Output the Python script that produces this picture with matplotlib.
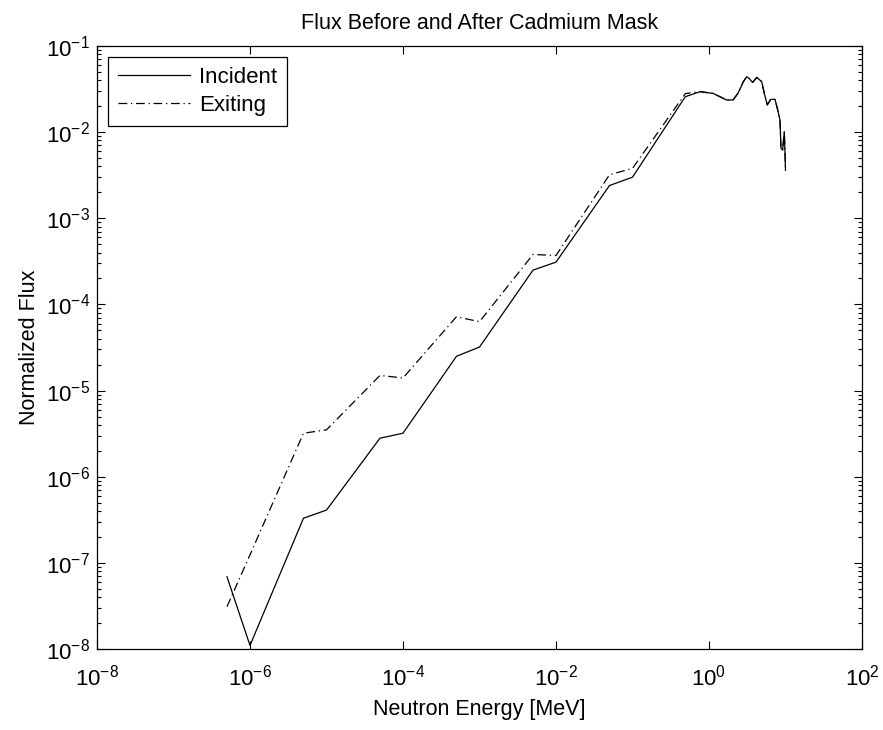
import numpy as np
import matplotlib
matplotlib.use('Agg')
import matplotlib.pyplot as plt
from matplotlib.ticker import FixedLocator, LogLocator, NullLocator, LogFormatterSciNotation

plt.rcParams['font.family'] = ['Liberation Sans', 'DejaVu Sans']
plt.rcParams['mathtext.fontset'] = 'custom'
plt.rcParams['mathtext.rm'] = 'Liberation Sans'
plt.rcParams['mathtext.default'] = 'regular'

# energy grid [MeV] and normalized flux
e_low = [5e-7, 1e-6, 5e-6, 1e-5, 5e-5, 1e-4, 5e-4, 1e-3, 5e-3, 1e-2, 5e-2, 1e-1]
inc_low = [6.9e-8, 1.1e-8, 3.3e-7, 4.1e-7, 2.8e-6, 3.2e-6, 2.5e-5, 3.2e-5, 2.5e-4, 3.1e-4, 2.4e-3, 3.0e-3]
exit_low = [3.1e-8, 1.24e-7, 3.2e-6, 3.5e-6, 1.5e-5, 1.4e-5, 7.2e-5, 6.3e-5, 3.8e-4, 3.7e-4, 3.2e-3, 3.8e-3]

e_high = [0.49, 0.76, 1.13, 1.70, 2.06, 2.39, 2.81, 3.11, 3.33, 3.72, 4.21, 4.89,
          5.28, 5.78, 6.41, 7.29, 7.91, 8.47, 8.73, 9.18, 9.64, 9.84, 10.0]
inc_high = [0.0258, 0.0294, 0.0282, 0.0236, 0.0236, 0.0282, 0.0385, 0.0440, 0.0422, 0.0378, 0.0432, 0.0385,
            0.0282, 0.0207, 0.0240, 0.0240, 0.0181, 0.0138, 0.0065, 0.0062, 0.0101, 0.0059, 0.0036]
exit_high = [0.0280, 0.0296, 0.0282, 0.0236, 0.0236, 0.0282, 0.0385, 0.0440, 0.0422, 0.0378, 0.0432, 0.0385,
             0.0282, 0.0207, 0.0240, 0.0240, 0.0181, 0.0138, 0.0065, 0.0062, 0.0101, 0.0059, 0.0036]

x_ticks = [1e-8, 1e-6, 1e-4, 1e-2, 1e0, 1e2]

energy = np.array(e_low + e_high)
incident = np.array(inc_low + inc_high)
exiting = np.array(exit_low + exit_high)

fig = plt.figure(figsize=(8.83, 7.30), dpi=100)
ax = fig.add_axes([97/883, 1-649/730, 765/883, 603/730])

ax.loglog(energy, incident, '-', color='k', lw=0.9, label='Incident')
ax.loglog(energy, exiting, color='k', lw=0.9, linestyle=(0, (7, 3, 1, 3)), label='Exiting')

ax.set_xlim(1e-8, 1e2)
ax.set_ylim(1e-8, 1e-1)

ax.xaxis.set_major_locator(FixedLocator(x_ticks))
ax.xaxis.set_major_formatter(LogFormatterSciNotation(base=10))
ax.xaxis.set_minor_locator(NullLocator())
ax.yaxis.set_major_locator(LogLocator(base=10.0, numticks=20))
ax.yaxis.set_minor_locator(LogLocator(base=10.0, subs=np.arange(2, 10), numticks=20))

ax.tick_params(which='both', direction='in', top=True, right=True, labelsize=16, width=0.8)
ax.tick_params(which='major', length=6, pad=5)
ax.tick_params(axis='x', which='major', pad=11)
ax.tick_params(which='minor', length=3)
for s in ax.spines.values():
    s.set_linewidth(0.9)

ax.set_title('Flux Before and After Cadmium Mask', fontsize=15.5, pad=12)
ax.set_xlabel('Neutron Energy [MeV]', fontsize=15.5, labelpad=6)
ax.set_ylabel('Normalized Flux', fontsize=15.5, labelpad=4)

leg = ax.legend(loc='upper left', fontsize=16, fancybox=False, edgecolor='k',
                handlelength=3.25, handletextpad=0.4, labelspacing=0.3,
                borderpad=0.45, borderaxespad=0.5, framealpha=1)
leg.get_frame().set_linewidth(0.9)

fig.savefig('out.png', dpi=100)
